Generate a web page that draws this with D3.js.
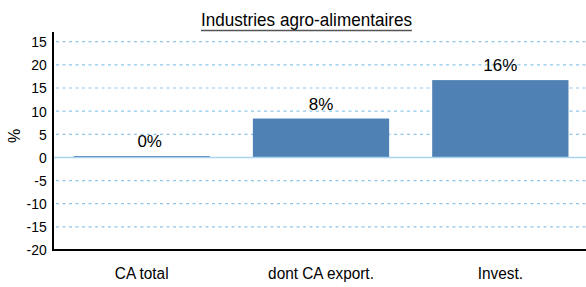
<!DOCTYPE html>
<html>
<head>
<meta charset="utf-8">
<script src="https://cdn.jsdelivr.net/npm/d3@7"></script>
<style>
  body { margin: 0; background: #fff; }
  text { font-family: "Liberation Sans", Arial, sans-serif; fill: #000; }
</style>
</head>
<body>
<script>
// data
const categories = ["CA total", "dont CA export.", "Invest."];
const values = [0.3, 8.4, 16.7];
const valueLabels = ["0%", "8%", "16%"];
const tickValues = [25, 20, 15, 10, 5, 0, -5, -10, -15, -20];
const tickLabels = ["15", "20", "15", "10", "5", "0", "-5", "-10", "-15", "-20"];
const title = "Industries agro-alimentaires";

const width = 586, height = 287;
const svg = d3.select("body").append("svg")
  .attr("width", width)
  .attr("height", height);

const x = d3.scaleBand()
  .domain(categories)
  .range([52, 590])
  .paddingInner(0.24)
  .paddingOuter(0.12);

const y = d3.scaleLinear()
  .domain([-20, 25])
  .range([250, 41.7]);

// grid
svg.append("g")
  .selectAll("line")
  .data(tickValues.filter(d => d !== 0 && d !== -20))
  .enter()
  .append("line")
  .attr("x1", 56)
  .attr("x2", width)
  .attr("y1", d => y(d))
  .attr("y2", d => y(d))
  .style("stroke", "#8fc6ea")
  .style("stroke-width", 1.2)
  .style("stroke-dasharray", "3,3.5");

// bars
svg.append("g")
  .selectAll("rect")
  .data(values)
  .enter()
  .append("rect")
  .attr("x", (d, i) => x(categories[i]))
  .attr("width", x.bandwidth())
  .attr("y", d => y(Math.max(0, d)))
  .attr("height", d => Math.abs(y(d) - y(0)))
  .attr("fill", "#4f81b5");

// zero line
svg.append("line")
  .attr("x1", 53)
  .attr("x2", width)
  .attr("y1", y(0))
  .attr("y2", y(0))
  .style("stroke", "#a9d3ee")
  .style("stroke-width", 1.5);

// value labels
svg.append("g")
  .selectAll("text")
  .data(values)
  .enter()
  .append("text")
  .attr("x", (d, i) => x(categories[i]) + x.bandwidth() / 2 + (i === 0 ? 8 : 0))
  .attr("y", d => y(Math.max(0, d)) - 9)
  .attr("text-anchor", "middle")
  .style("font-size", "17px")
  .text((d, i) => valueLabels[i]);

// y axis
const yAxis = d3.axisLeft(y)
  .tickValues(tickValues)
  .tickSize(0)
  .tickPadding(7)
  .tickFormat((d, i) => tickLabels[i]);

const gy = svg.append("g")
  .attr("transform", "translate(53,0)")
  .call(yAxis);
gy.select(".domain").remove();
gy.selectAll("text")
  .style("font-size", "15.5px")
  .attr("font-family", null)
  .attr("transform", "scale(0.9,1)");

svg.append("line")
  .attr("x1", 53).attr("x2", 53)
  .attr("y1", 32).attr("y2", 251)
  .style("stroke", "#000")
  .style("stroke-width", 2);

// x axis
const gx = svg.append("g")
  .attr("transform", `translate(0,${y(-20)})`)
  .call(d3.axisBottom(x).tickSize(0).tickPadding(18));
gx.select(".domain").remove();
gx.selectAll("text")
  .style("font-size", "16px")
  .attr("font-family", null)
  .attr("transform", "scale(0.96,1)");

svg.append("line")
  .attr("x1", 52).attr("x2", width)
  .attr("y1", y(-20)).attr("y2", y(-20))
  .style("stroke", "#000")
  .style("stroke-width", 2);

// y label
svg.append("text")
  .attr("transform", "translate(20,136) rotate(-90)")
  .attr("text-anchor", "middle")
  .style("font-size", "16px")
  .text("%");

// title + underline
const tg = svg.append("g").attr("transform", "translate(306.5,25.5) scale(0.95,1)");
const t = tg.append("text")
  .attr("text-anchor", "middle")
  .style("font-size", "18px")
  .text(title);
const tw = t.node().getComputedTextLength();
tg.append("line")
  .attr("x1", -tw / 2).attr("x2", tw / 2)
  .attr("y1", 5).attr("y2", 5)
  .style("stroke", "#555")
  .style("stroke-width", 1.5);
</script>
</body>
</html>
